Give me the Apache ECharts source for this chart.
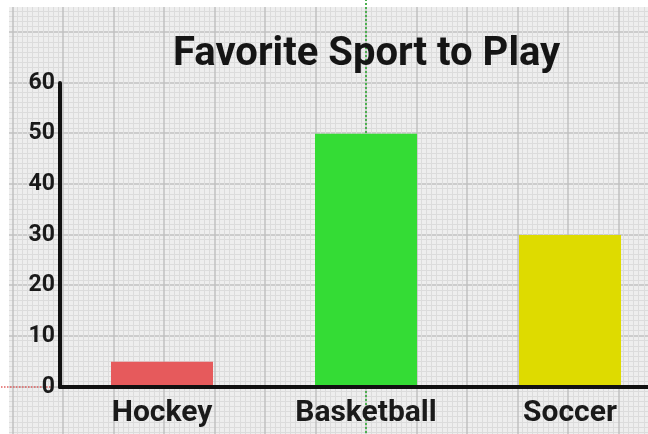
<!DOCTYPE html>
<html>
<head>
<meta charset="utf-8">
<script src="https://cdn.jsdelivr.net/npm/echarts@6/dist/echarts.min.js"></script>
<style>
  html, body { margin: 0; padding: 0; background: #ffffff; }
  #chart { width: 648px; height: 434px; }
</style>
</head>
<body>
<div id="chart"></div>
<script>
// chart data
var sports = ['Hockey', 'Basketball', 'Soccer'];
var votes = [5, 50, 30];
var barColors = ['#e65a5c', '#34dc35', '#dedb00'];
var yTicks = [0, 10, 20, 30, 40, 50, 60];

function load()
{
    var chart = echarts.init(document.getElementById('chart'));
    var option = {
        backgroundColor: '#ffffff',
        animation: false,
        title: {
            text: 'Favorite Sport to Play',
            left: 168,
            top: 30,
            textStyle: {
                fontFamily: 'Roboto',
                fontWeight: 'bold',
                fontSize: 40,
                color: '#151515'
            }
        },
        graphic: [
            // white paper edge at top / left
            { type: 'rect', z: 1, shape: { x: 0, y: 0, width: 648, height: 7 }, style: { fill: '#ffffff' } },
            { type: 'rect', z: 1, shape: { x: 0, y: 0, width: 9, height: 434 }, style: { fill: '#ffffff' } }
        ],
        grid: [
            {   // main plot, runs past the right edge like the photo
                left: 60,
                width: 612,
                top: 83,
                height: 304,
                containLabel: false,
                outerBoundsMode: 'none'
            },
            {   // graph paper behind everything
                left: -38,
                width: 707,
                top: -19,
                height: 456,
                show: true,
                backgroundColor: '#eeeeee',
                borderWidth: 0,
                outerBoundsMode: 'none',
                z: -1
            }
        ],
        xAxis: [
            {
                type: 'category',
                gridIndex: 0,
                data: sports,
                z: 6,
                axisLine: { lineStyle: { color: '#111111', width: 4 } },
                axisTick: { show: false },
                axisLabel: {
                    margin: 11,
                    fontFamily: 'Roboto',
                    fontWeight: 'bold',
                    fontSize: 30,
                    color: '#1a1a1a'
                }
            },
            {
                type: 'value',
                gridIndex: 1,
                min: 0,
                max: 14,
                interval: 1,
                z: -1,
                axisLine: { show: false },
                axisTick: { show: false },
                axisLabel: { show: false },
                splitLine: { show: true, lineStyle: { color: '#c0c0c0', width: 1.5 } },
                minorTick: { show: false, splitNumber: 10 },
                minorSplitLine: { show: true, lineStyle: { color: '#dcdcdc', width: 1 } }
            }
        ],
        yAxis: [
            {
                type: 'value',
                gridIndex: 0,
                min: yTicks[0],
                max: yTicks[yTicks.length - 1],
                interval: 10,
                z: 6,
                axisLine: { show: true, lineStyle: { color: '#111111', width: 4 } },
                axisTick: { show: false },
                splitLine: { show: false },
                axisLabel: {
                    margin: 5,
                    fontFamily: 'Roboto',
                    fontWeight: 'bold',
                    fontSize: 23,
                    color: '#1a1a1a'
                }
            },
            {
                type: 'value',
                gridIndex: 1,
                min: 0,
                max: 9,
                interval: 1,
                z: -1,
                axisLine: { show: false },
                axisTick: { show: false },
                axisLabel: { show: false },
                splitLine: { show: true, lineStyle: { color: '#c0c0c0', width: 1.5 } },
                minorTick: { show: false, splitNumber: 10 },
                minorSplitLine: { show: true, lineStyle: { color: '#dcdcdc', width: 1 } }
            }
        ],
        series: [
            {
                type: 'bar',
                xAxisIndex: 0,
                yAxisIndex: 0,
                z: 5,
                barWidth: '50%',
                data: votes.map(function (v, i) {
                    return { value: v, itemStyle: { color: barColors[i] } };
                })
            },
            {
                // cursor guides seen on the screenshot
                type: 'line',
                xAxisIndex: 1,
                yAxisIndex: 1,
                z: 1,
                data: [],
                markLine: {
                    silent: true,
                    symbol: 'none',
                    label: { show: false },
                    data: [
                        { xAxis: 8, lineStyle: { color: '#4caf50', type: 'dotted', width: 2 } },
                        [
                            { coord: [0, 1], lineStyle: { color: '#e06060', type: 'dotted', width: 1.5 } },
                            { coord: [1.8, 1] }
                        ]
                    ]
                }
            }
        ]
    };
    chart.setOption(option);
}
load();
</script>
</body>
</html>
